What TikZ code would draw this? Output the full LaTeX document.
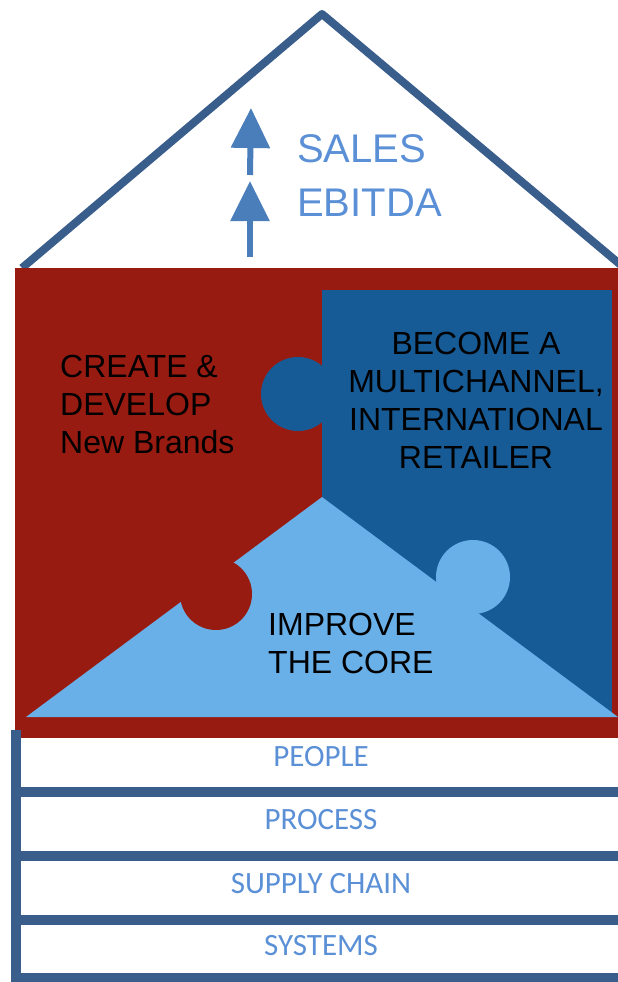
\documentclass[tikz,border=0pt]{standalone}
\usepackage{fontspec}
\setmainfont{Liberation Sans}
\newfontfamily\barfont{Carlito}
\usetikzlibrary{arrows.meta}
\definecolor{roofblue}{RGB}{58,94,140}
\definecolor{corered}{RGB}{152,27,18}
\definecolor{darkblue}{RGB}{23,91,150}
\definecolor{lightblue}{RGB}{105,175,232}
\definecolor{arrowblue}{RGB}{74,126,187}
\definecolor{textblue}{RGB}{91,144,214}
\tikzset{
  roofline/.style={draw=roofblue, line width=8pt, line join=round},
  barline/.style={draw=roofblue, line width=10pt},
  uparrow/.style={draw=arrowblue, line width=6pt, -{Triangle[width=38pt,length=40pt]}},
  goal/.style={font=\fontsize{32}{38}\selectfont, inner sep=0pt},
  kpi/.style={font=\fontsize{40}{54}\selectfont, text=textblue, inner sep=0pt, anchor=base west},
  base/.style={font=\barfont\fontsize{31}{36}\selectfont, text=textblue, inner sep=0pt}
}

\begin{document}
\begin{tikzpicture}[x=1pt, y=-1pt]
  \useasboundingbox (0,0) rectangle (618,982);

  \coordinate (apex) at (322,14);
  \coordinate (eaveL) at (22,268);
  \coordinate (eaveR) at (622,266);
  \draw[roofline] (eaveL) -- (apex) -- (eaveR);

  \coordinate (a1s) at (250,175);
  \coordinate (a1t) at (251,108);
  \coordinate (a2s) at (250,257);
  \coordinate (a2t) at (250,181);
  \draw[uparrow] (a1s) -- (a1t);
  \draw[uparrow] (a2s) -- (a2t);

  \node (sales) [kpi] at (297,162) {SALES};
  \node (ebitda) [kpi] at (297,216) {EBITDA};

  \fill[corered] (15,268) rectangle (618,738);
  \fill[darkblue] (322,290) rectangle (612,717);
  \fill[darkblue] (298,394) circle (37);
  \fill[lightblue] (26,717) -- (322,497) -- (618,717) -- cycle;
  \fill[lightblue] (473,577) circle (37);
  \fill[corered] (216,594) circle (36);

  \node (create) [goal, anchor=north west, align=left] at (60,355)
    {CREATE \&\\DEVELOP\\New Brands};
  \node (become) [goal, anchor=north, align=center] at (476,332)
    {BECOME A\\MULTICHANNEL,\\INTERNATIONAL\\RETAILER};
  \node (improve) [goal, anchor=north west, align=left] at (268,613)
    {IMPROVE\\THE CORE};

  \coordinate (b0) at (16,730);
  \coordinate (b4) at (16,978);
  \coordinate (e4) at (618,978);
  \draw[barline] (b0) -- (b4) -- (e4);
  \draw[barline] (16,792) -- (618,792);
  \draw[barline] (16,856) -- (618,856);
  \draw[barline] (16,920) -- (618,920);

  \node (people) [base] at (321,757) {PEOPLE};
  \node (process) [base] at (321,820) {PROCESS};
  \node (supply) [base] at (321,884) {SUPPLY CHAIN};
  \node (systems) [base] at (321,946) {SYSTEMS};
\end{tikzpicture}
\end{document}
